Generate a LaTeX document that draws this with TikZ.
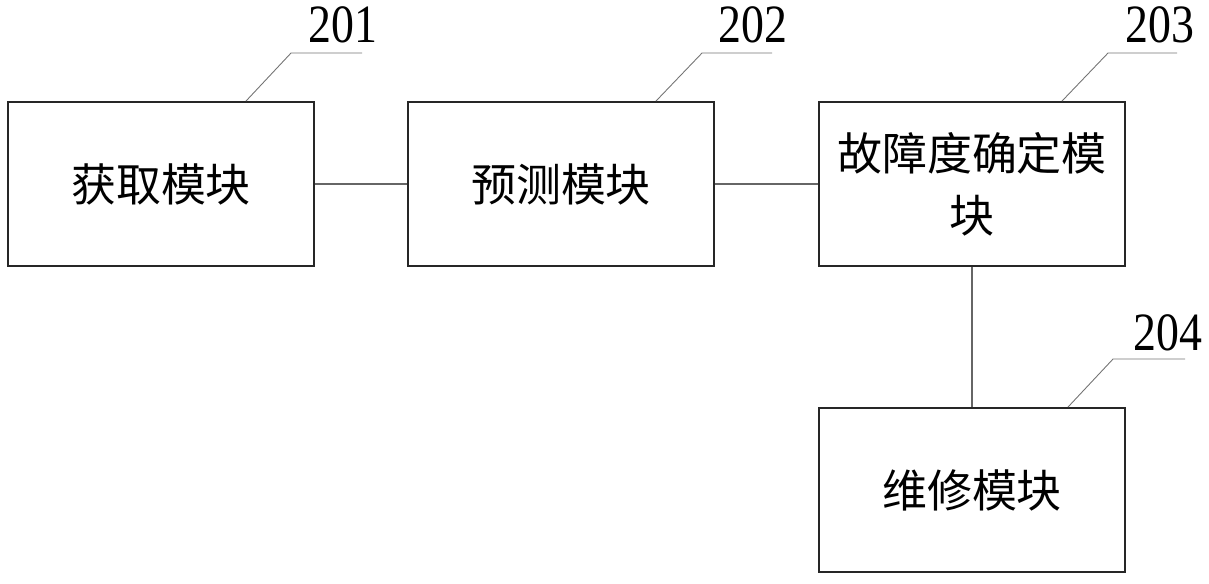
\documentclass[tikz,border=0pt]{standalone}
\usepackage{fontspec}
\newfontfamily\cjk{Noto Sans CJK SC}
\newfontfamily\numfont[FakeStretch=0.85]{Liberation Serif}
\usetikzlibrary{positioning}

\begin{document}
\begin{tikzpicture}[x=0.02cm,y=-0.02cm]
  \tikzset{
    module/.style={draw=black!85, line width=1.1pt, fill=white, minimum width=6.12cm, minimum height=3.28cm, align=center, inner sep=0pt, font=\cjk\fontsize{25.6}{35.3}\selectfont},
    link/.style={black!60, line width=0.6pt},
    lead/.style={black!55, line width=0.5pt},
    num/.style={font=\numfont\fontsize{30.7}{32}\selectfont, inner sep=0pt}
  }
  \useasboundingbox (0,0) rectangle (1209,584);

  % X positions
  \def\xA{161}
  \def\xB{561}
  \def\xC{972}
  % Y positions
  \def\yT{184}
  \def\yB{490}

  % Modules
  \node[module] (get) at (\xA,\yT) {获取模块};
  \node[module] (pred) at (\xB,\yT) {预测模块};
  \node[module] (deg) at (\xC,\yT) {故障度确定模\\块};
  \node[module] (fix) at (\xC,\yB) {维修模块};

  % Connections
  \draw[link] (get) -- (pred);
  \draw[link] (pred) -- (deg);
  \draw[link] (deg) -- (fix);

  % Reference numerals
  \node[num] (n201) at (343,25) {201};
  \node[num] (n202) at (753,25) {202};
  \node[num] (n203) at (1160,25) {203};
  \node[num] (n204) at (1168,333) {204};

  \draw[lead] ([shift={(85,0)}]get.north) -- ++(45,-48) -- ++(71,0);
  \draw[lead] ([shift={(95,0)}]pred.north) -- ++(46,-48) -- ++(70,0);
  \draw[lead] ([shift={(90,0)}]deg.north) -- ++(46,-48) -- ++(69,0);
  \draw[lead] ([shift={(96,0)}]fix.north) -- ++(45,-48) -- ++(72,0);

\end{tikzpicture}
\end{document}
